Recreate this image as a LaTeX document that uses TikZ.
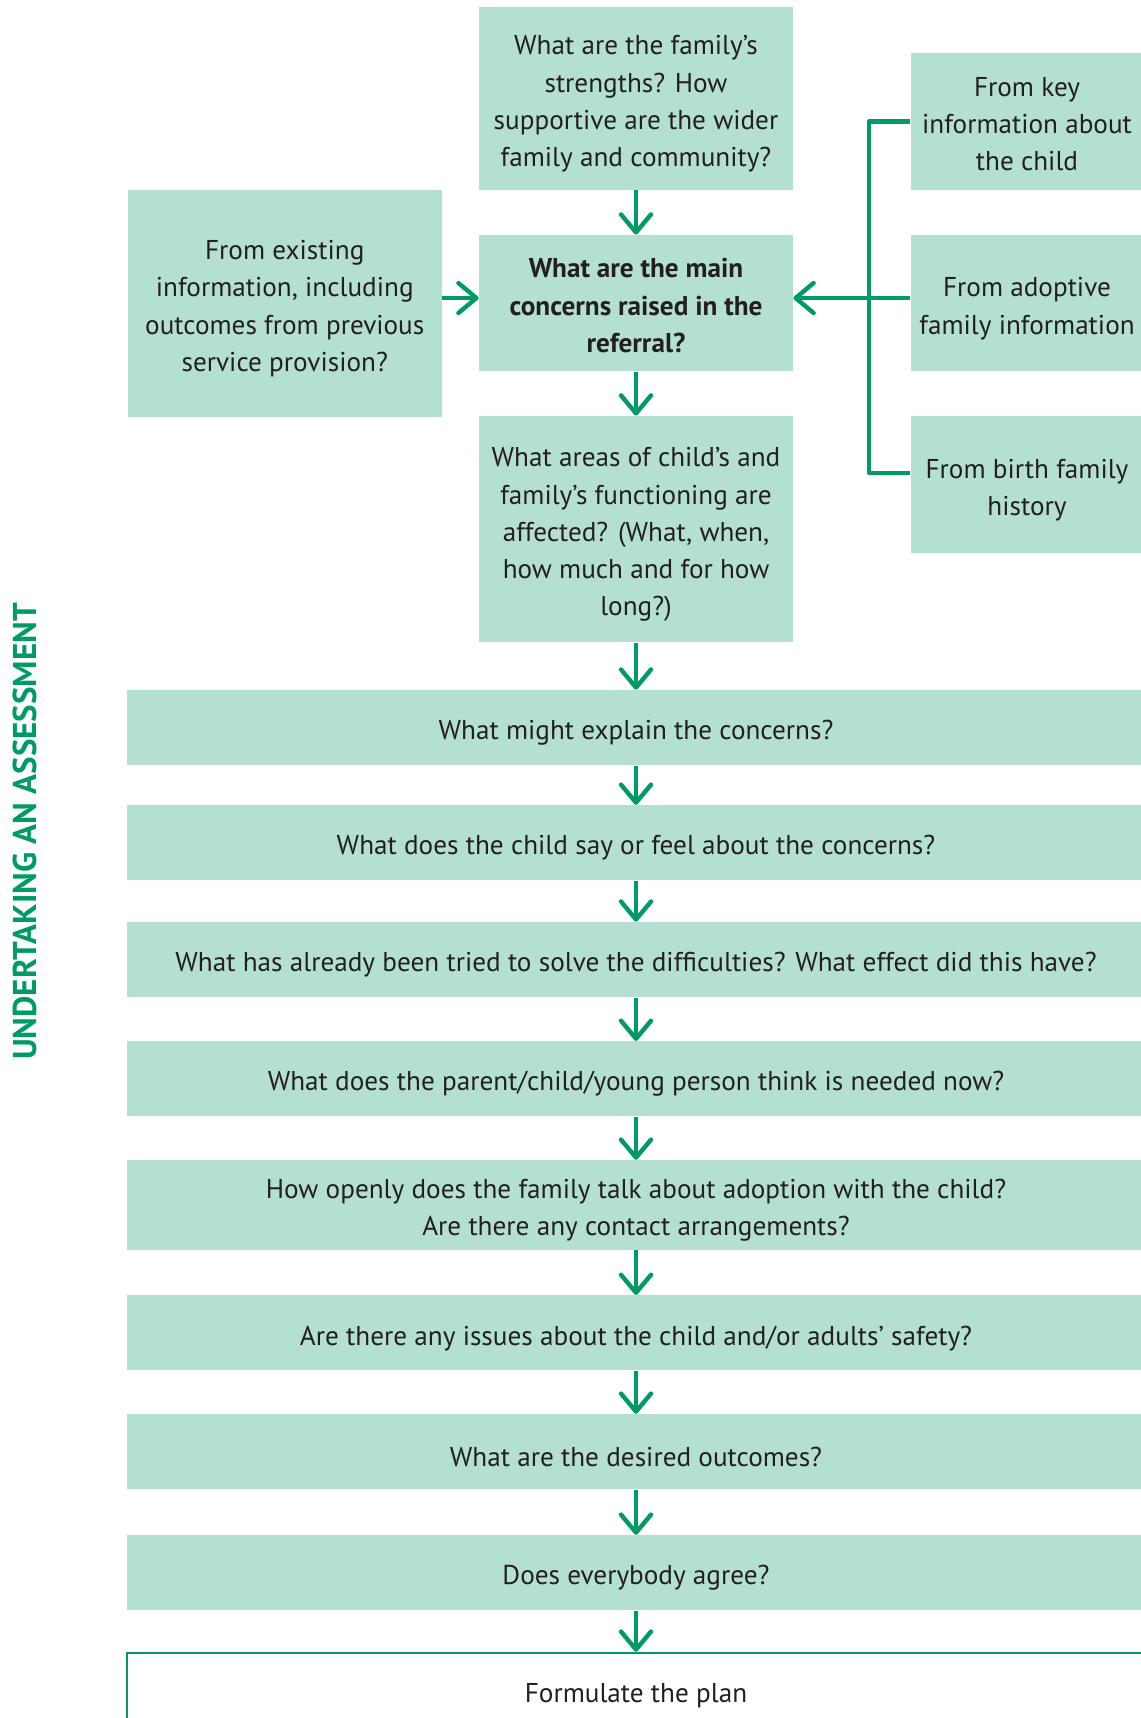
\documentclass[tikz,border=0pt]{standalone}
\usepackage{fontspec}
\setmainfont{PT Sans}
\usetikzlibrary{arrows.meta}
\definecolor{mint}{HTML}{B3E0D1}
\definecolor{grn}{HTML}{009B64}
\definecolor{ink}{HTML}{231F20}
\newcommand{\lowr}[1]{\rule{0pt}{#1}}
\begin{document}
\begin{tikzpicture}[x=0.5pt,y=-0.5pt,
  box/.style={fill=mint, draw=none, inner sep=0pt, align=center, text=ink,
    font=\fontsize{13.6pt}{18.6pt}\selectfont},
  wide/.style={box, minimum width=509pt, minimum height=37.5pt},
  ln/.style={draw=grn, line width=2.2pt, line join=round},
  arr/.style={ln, -{Straight Barb[length=9pt,width=15pt,round]}}]
\useasboundingbox (0,0) rectangle (1140,1718);

% upper column
\node[box, minimum width=157pt, minimum height=91.5pt] (top) at (636,98.5)
  {\lowr{15pt}What are the family’s\\strengths? How\\supportive are the wider\\family and community?};
\node[box, minimum width=156.75pt, minimum height=113.25pt] (left) at (284.75,303.25)
  {\lowr{15pt}From existing\\information, including\\outcomes from previous\\service provision?};
\node[box, minimum width=157pt, minimum height=68.2pt, font=\bfseries\fontsize{13.6pt}{18.6pt}\selectfont] (main) at (636,303.2)
  {\lowr{12pt}What are the main\\concerns raised in the\\referral?};
\node[box, minimum width=157pt, minimum height=113.2pt] (areas) at (636,529.2)
  {\lowr{15pt}What areas of child’s and\\family’s functioning are\\affected? (What, when,\\how much and for how\\long?)};

% right column
\node[box, minimum width=116.5pt, minimum height=68.5pt] (rk) at (1027,121.5)
  {\lowr{12pt}From key\\information about\\the child};
\node[box, minimum width=116.5pt, minimum height=68.2pt] (ra) at (1027,303.2)
  {\lowr{15pt}From adoptive\\family information};
\node[box, minimum width=116.5pt, minimum height=68.35pt] (rb) at (1027,484.4)
  {\lowr{15pt}From birth family\\history};

% wide boxes
\node[wide] (w1) at (636,727.6) {\lowr{15pt}What might explain the concerns?};
\node[wide] (w2) at (636,842.75) {\lowr{15pt}What does the child say or feel about the concerns?};
\node[wide] (w3) at (636,959.6) {\lowr{15pt}What has already been tried to solve the difficulties? What effect did this have?};
\node[wide] (w4) at (636,1078.8) {\lowr{15pt}What does the parent/child/young person think is needed now?};
\node[wide, minimum height=44.9pt] (w5) at (636,1205.1) {\lowr{15pt}How openly does the family talk about adoption with the child?\\Are there any contact arrangements?};
\node[wide] (w6) at (636,1332.85) {\lowr{15pt}Are there any issues about the child and/or adults’ safety?};
\node[wide] (w7) at (636,1451.65) {\lowr{15pt}What are the desired outcomes?};
\node[wide] (w8) at (636,1572.7) {\lowr{15pt}Does everybody agree?};
\node[wide, fill=white, draw=grn, line width=1.25pt] (w9) at (636,1690.5) {\lowr{15pt}Formulate the plan};

% title
\node[rotate=90, inner sep=0pt, text=grn, font=\bfseries\fontsize{16.5pt}{16.5pt}\selectfont] (title) at (24.7,831.5) {UNDERTAKING AN ASSESSMENT};

% bracket
\coordinate (bT) at (869,121.5);
\coordinate (bM) at (869,298);
\coordinate (bB) at (869,473);
\draw[ln] (rk.west) -- (bT) -- (bB) -- (rb.west |- bB);
\draw[arr] (ra.west |- bM) -- (main.east |- bM);
\draw[arr] (left.east |- bM) -- (main.west |- bM);

% vertical arrows
\draw[arr] (top.south) -- (main.north);
\draw[arr] (main.south) -- (areas.north);
\draw[arr] (areas.south) -- (w1.north);
\draw[arr] (w1.south) -- (w2.north);
\draw[arr] (w2.south) -- (w3.north);
\draw[arr] (w3.south) -- (w4.north);
\draw[arr] (w4.south) -- (w5.north);
\draw[arr] (w5.south) -- (w6.north);
\draw[arr] (w6.south) -- (w7.north);
\draw[arr] (w7.south) -- (w8.north);
\draw[arr] (w8.south) -- (w9.north);
\end{tikzpicture}
\end{document}
